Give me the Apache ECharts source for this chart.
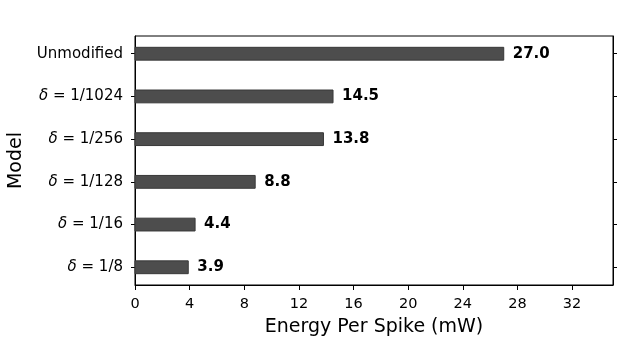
<!DOCTYPE html>
<html>
<head>
<meta charset="utf-8">
<script src="https://cdn.jsdelivr.net/npm/echarts@6/dist/echarts.min.js"></script>
<style>
  html, body { margin: 0; padding: 0; background: #fff; }
  #chart { width: 626px; height: 358px; }
</style>
</head>
<body>
<div id="chart"></div>
<script>
// data
var models = ['Unmodified', 'δ = 1/1024', 'δ = 1/256', 'δ = 1/128', 'δ = 1/16', 'δ = 1/8'];
var energy = [27.0, 14.5, 13.8, 8.8, 4.4, 3.9];
var xTicks = [0, 4, 8, 12, 16, 20, 24, 28, 32];
var yTicks = [0, 1, 2, 3, 4, 5];

var FONT = 'DejaVu Sans';
var chart = echarts.init(document.getElementById('chart'));

var barData = energy.map(function (v, i) { return [v, i]; });

function modelLabel(v) {
  var name = models[Math.round(v)];
  if (name.indexOf('δ') === 0) {
    return '{d|δ}{n|' + name.slice(1) + '}';
  }
  return '{n|' + name + '}';
}

var option = {
  animation: false,
  grid: {
    left: 135,
    right: 13,
    top: 36,
    bottom: 73,
    outerBoundsMode: 'none',
    containLabel: false,
    show: true,
    borderColor: '#000',
    borderWidth: 1,
    backgroundColor: 'transparent'
  },
  xAxis: {
    type: 'value',
    min: 0,
    max: 35,
    name: 'Energy Per Spike (mW)',
    nameLocation: 'middle',
    nameGap: 33,
    nameTextStyle: { fontFamily: FONT, fontSize: 19, color: '#000' },
    axisLine: { show: true, onZero: false, lineStyle: { color: '#000', width: 1 } },
    axisTick: { show: true, length: 5, customValues: xTicks, lineStyle: { color: '#000' } },
    axisLabel: {
      customValues: xTicks,
      fontFamily: FONT, fontSize: 14.5, color: '#000', margin: 12
    },
    splitLine: { show: false }
  },
  yAxis: [
    {
      type: 'value',
      inverse: true,
      min: -0.415,
      max: 5.415,
      name: 'Model',
      nameLocation: 'middle',
      nameGap: 108,
      nameTextStyle: { fontFamily: FONT, fontSize: 19, color: '#000' },
      axisLine: { show: true, onZero: false, lineStyle: { color: '#000', width: 1 } },
      axisTick: { show: true, length: 4, customValues: yTicks, lineStyle: { color: '#000' } },
      axisLabel: {
        customValues: yTicks,
        margin: 12,
        formatter: modelLabel,
        rich: {
          d: { fontFamily: FONT, fontSize: 15, fontStyle: 'italic', color: '#000' },
          n: { fontFamily: FONT, fontSize: 15, color: '#000' }
        }
      },
      splitLine: { show: false }
    },
    {
      type: 'value',
      inverse: true,
      position: 'right',
      min: -0.415,
      max: 5.415,
      axisLine: { show: true, onZero: false, lineStyle: { color: '#000', width: 1 } },
      axisTick: { show: true, length: 4, customValues: yTicks, lineStyle: { color: '#000' } },
      axisLabel: { show: false },
      splitLine: { show: false }
    }
  ],
  series: [
    {
      type: 'custom',
      xAxisIndex: 0,
      yAxisIndex: 0,
      encode: { x: 0, y: 1 },
      data: barData,
      renderItem: function (params, api) {
        var val = api.value(0);
        var idx = api.value(1);
        var start = api.coord([0, idx]);
        var end = api.coord([val, idx]);
        var h = api.size([0, 0.3])[1];
        return {
          type: 'group',
          children: [
            {
              type: 'rect',
              shape: { x: start[0], y: start[1] - h / 2, width: end[0] - start[0], height: h },
              style: { fill: '#4d4d4d', stroke: '#383838', lineWidth: 1 }
            },
            {
              type: 'text',
              x: end[0] + 9,
              y: start[1],
              style: {
                text: val.toFixed(1),
                fontFamily: FONT,
                fontSize: 15,
                fontWeight: 'bold',
                fill: '#000',
                verticalAlign: 'middle',
                align: 'left'
              }
            }
          ]
        };
      }
    }
  ]
};

chart.setOption(option);
</script>
</body>
</html>
